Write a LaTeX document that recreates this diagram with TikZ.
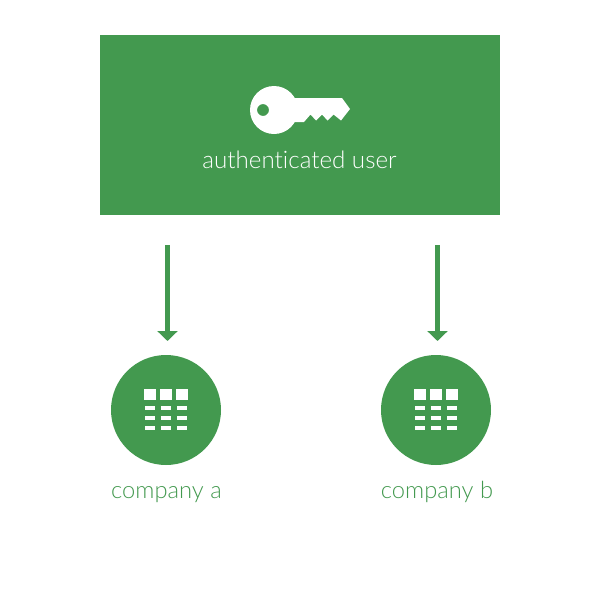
\documentclass[tikz,border=0pt]{standalone}
\usepackage{fontspec}
\setmainfont{Lato}[UprightFont=* Light,Ligatures=NoCommon]
\usetikzlibrary{arrows.meta}
\definecolor{brandgreen}{HTML}{43994F}
\newcommand{\gridicon}[1]{%
  \begin{scope}[shift={(#1,0)},fill=white]
    \foreach \cx in {144,160,176}{
      \fill[white] (\cx,389) rectangle ++(12,11);
      \foreach \cy in {405.5,415.5,426}{
        \fill[white] (\cx+1,\cy) rectangle ++(10,4);
      }
    }
  \end{scope}}
\tikzset{
  px/.style={x=0.75pt,y=-0.75pt},
  userbox/.style={fill=brandgreen,draw=none,minimum width=300pt,minimum height=135pt,inner sep=0pt,outer sep=0pt},
  company/.style={circle,fill=brandgreen,draw=none,minimum size=82.5pt,inner sep=0pt,outer sep=0pt},
  flow/.style={draw=brandgreen,line width=4.4pt,-{Triangle[length=7.4pt,width=14.8pt,fill=brandgreen]}},
  whitelabel/.style={text=white,font=\fontsize{18.1}{20}\selectfont,inner sep=0pt},
  greenlabel/.style={text=brandgreen,font=\fontsize{17.8}{20}\selectfont,inner sep=0pt}
}
\begin{document}
\begin{tikzpicture}[px]
  \useasboundingbox (0,0) rectangle (600,600);
  \node[userbox] (user) at (300,125) {};
  \node[whitelabel,anchor=base] (userlabel) at (299.5,168) {authenticated user};
  % key
  \fill[white,even odd rule]
    (274,110) circle [radius=24]
    (263,110) circle [radius=6];
  \fill[white] (290,98) -- (342,98) -- (350,109) -- (341,120.5) -- (333.5,114.5) -- (327.5,120.5)
    -- (322,114.5) -- (316,120.5) -- (310.5,114.5) -- (304,122) -- (290,122) -- cycle;
  % companies
  \node[company] (a) at (166,410) {};
  \node[company] (b) at (436,410) {};
  \gridicon{0}
  \gridicon{270}
  \node[greenlabel,anchor=base] (alabel) at (166.5,498) {company a};
  \node[greenlabel,anchor=base] (blabel) at (437,498) {company b};
  % connectors
  \coordinate (a1) at (167.5,245);
  \coordinate (a2) at (167.5,341);
  \coordinate (b1) at (437.5,245);
  \coordinate (b2) at (437.5,341);
  \draw[flow] (a1) -- (a2);
  \draw[flow] (b1) -- (b2);
\end{tikzpicture}
\end{document}
